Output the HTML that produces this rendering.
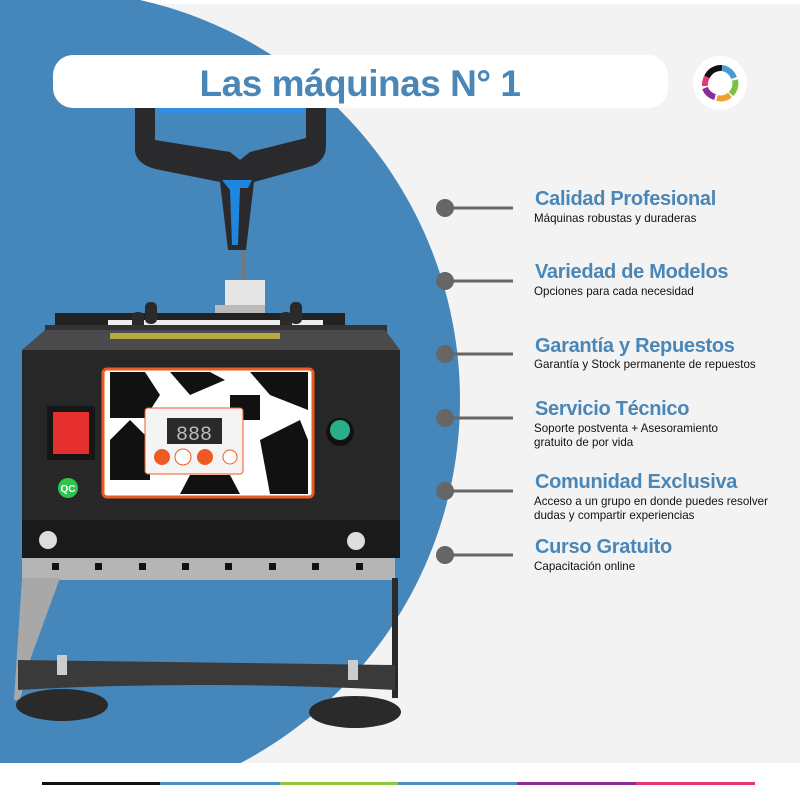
<!DOCTYPE html>
<html><head><meta charset="utf-8"><style>
html,body{margin:0;padding:0;width:800px;height:800px;overflow:hidden;background:#f3f3f3;font-family:"Liberation Sans",sans-serif}
.t{position:absolute;left:535px;color:#4a86b6;font-weight:bold;font-size:20px;letter-spacing:-0.3px;white-space:nowrap}
.s{position:absolute;left:534px;color:#111;font-size:11.6px;line-height:14px;white-space:nowrap}
</style></head><body>
<svg width="800" height="800" style="position:absolute;left:0;top:0">
<rect x="0" y="0" width="800" height="4" fill="#fff"/>
<circle cx="50" cy="400" r="410" fill="#4587ba"/>
<rect x="0" y="763" width="800" height="37" fill="#fff"/>
<!-- handle -->
<path d="M135,108 L135,152 Q138,166 160,170 L220,182 L228,250 L246,250 L254,182 L312,166 Q326,160 326,146 L326,108 L306,108 L306,138 L250,152 L240,160 L230,152 L155,140 L155,108 Z" fill="#2a2a2c"/>
<rect x="155" y="104" width="151" height="10" fill="#2e8ee0"/>
<path d="M222,180 L252,180 L248,188 L240,188 L238,245 L232,245 L230,190 Z" fill="#1f86e0"/>
<rect x="241" y="250" width="4" height="35" fill="#777"/>
<rect x="225" y="280" width="40" height="30" fill="#e6e6e6"/>
<rect x="215" y="305" width="50" height="20" fill="#bbb"/>
<!-- top rail -->
<rect x="55" y="313" width="290" height="12" fill="#222"/>
<rect x="108" y="320" width="215" height="10" fill="#eee"/>
<rect x="145" y="302" width="12" height="22" rx="5" fill="#2a2a2a"/>
<rect x="290" y="302" width="12" height="22" rx="5" fill="#2a2a2a"/>
<rect x="132" y="312" width="12" height="22" rx="5" fill="#2a2a2a"/>
<rect x="280" y="312" width="12" height="22" rx="5" fill="#2a2a2a"/>
<rect x="45" y="325" width="342" height="8" fill="#333"/>
<path d="M45,330 L385,330 L400,350 L22,350 Z" fill="#4a4a4c"/>
<rect x="110" y="333" width="170" height="6" fill="#b8a840"/>
<!-- body -->
<rect x="22" y="350" width="378" height="172" fill="#272727"/>
<rect x="22" y="520" width="378" height="38" fill="#1a1a1a"/>
<circle cx="48" cy="540" r="9" fill="#ddd"/><circle cx="356" cy="541" r="9" fill="#ddd"/>
<!-- panel -->
<rect x="103" y="369" width="210" height="128" rx="4" fill="#fff" stroke="#ef5a24" stroke-width="3"/>
<g fill="#111">
<polygon points="110,372 145,372 160,395 145,418 110,418"/>
<polygon points="170,372 210,372 225,380 190,395"/>
<polygon points="250,372 308,372 308,410 270,395"/>
<polygon points="110,440 130,420 150,440 150,480 110,480"/>
<polygon points="190,475 230,475 240,494 180,494"/>
<polygon points="260,440 300,420 308,440 308,494 270,494"/>
<rect x="230" y="395" width="30" height="25"/>
</g>
<rect x="145" y="408" width="98" height="66" rx="3" fill="#f4f4f4" stroke="#ef5a24" stroke-width="1"/>
<rect x="167" y="418" width="55" height="26" fill="#2a2a2a"/>
<text x="194" y="440" font-size="20" fill="#bbb" text-anchor="middle" font-family="Liberation Mono">888</text>
<circle cx="162" cy="457" r="8" fill="#ee5a24"/><circle cx="183" cy="457" r="8" fill="#fff" stroke="#ee5a24"/><circle cx="205" cy="457" r="8" fill="#ee5a24"/><circle cx="230" cy="457" r="7" fill="#fff" stroke="#ee5a24"/>
<circle cx="340" cy="432" r="14" fill="#111"/><circle cx="340" cy="430" r="10" fill="#2aae8a"/>
<rect x="47" y="406" width="48" height="54" fill="#161616"/>
<rect x="53" y="412" width="36" height="42" fill="#e63030"/>
<circle cx="68" cy="488" r="10" fill="#2fc44e"/>
<text x="68" y="492" font-size="10" fill="#fff" text-anchor="middle" font-weight="bold">QC</text>
<!-- frame -->
<rect x="22" y="558" width="373" height="22" fill="#b5b5b5"/>
<g fill="#111"><rect x="52" y="563" width="7" height="7"/><rect x="95" y="563" width="7" height="7"/><rect x="139" y="563" width="7" height="7"/><rect x="182" y="563" width="7" height="7"/><rect x="225" y="563" width="7" height="7"/><rect x="269" y="563" width="7" height="7"/><rect x="312" y="563" width="7" height="7"/><rect x="356" y="563" width="7" height="7"/></g>
<path d="M22,578 L60,578 L30,660 L20,700 L14,700 Z" fill="#a8a8a8"/>
<rect x="392" y="578" width="6" height="120" fill="#2a2a2a"/>
<path d="M18,660 L395,665 L395,690 Q200,680 18,690 Z" fill="#3a3a3a"/>
<rect x="57" y="655" width="10" height="20" fill="#ccc"/><rect x="348" y="660" width="10" height="20" fill="#ccc"/>
<ellipse cx="62" cy="705" rx="46" ry="16" fill="#2a2a2a"/>
<ellipse cx="355" cy="712" rx="46" ry="16" fill="#2a2a2a"/>
<!-- title pill -->
<rect x="53" y="55" width="615" height="53" rx="20" fill="#fff"/>
<text x="360" y="96" font-size="37" font-weight="bold" fill="#4a86b6" text-anchor="middle" letter-spacing="-0.5">Las máquinas N° 1</text>
<!-- logo -->
<circle cx="720" cy="83" r="27" fill="#fff"/>
<g fill="none" stroke-width="6">
<path d="M707,77 A15,15 0 0 1 722,68" stroke="#111"/>
<path d="M722,68 A15,15 0 0 1 734,78" stroke="#4a9ad6"/>
<path d="M735,80 A15,15 0 0 1 731,94" stroke="#7cc242"/>
<path d="M730,95 A15,15 0 0 1 717,98" stroke="#f0a030"/>
<path d="M715,97 A15,15 0 0 1 705,88" stroke="#8e2a9a"/>
<path d="M705,86 A15,15 0 0 1 707,77" stroke="#e03a7a"/>
</g>
<!-- bullets -->
<g fill="#666" stroke="#666" stroke-width="3">
<circle cx="445" cy="208" r="9" stroke="none"/><line x1="445" y1="208" x2="513" y2="208"/>
<circle cx="445" cy="281" r="9" stroke="none"/><line x1="445" y1="281" x2="513" y2="281"/>
<circle cx="445" cy="354" r="9" stroke="none"/><line x1="445" y1="354" x2="513" y2="354"/>
<circle cx="445" cy="418" r="9" stroke="none"/><line x1="445" y1="418" x2="513" y2="418"/>
<circle cx="445" cy="491" r="9" stroke="none"/><line x1="445" y1="491" x2="513" y2="491"/>
<circle cx="445" cy="555" r="9" stroke="none"/><line x1="445" y1="555" x2="513" y2="555"/>
</g>
<!-- bottom line -->
<rect x="42" y="782" width="118" height="3" fill="#111"/>
<rect x="160" y="782" width="120" height="3" fill="#4a90c8"/>
<rect x="280" y="782" width="118" height="3" fill="#8cc640"/>
<rect x="398" y="782" width="119" height="3" fill="#4a90c8"/>
<rect x="517" y="782" width="119" height="3" fill="#8e2a9a"/>
<rect x="636" y="782" width="119" height="3" fill="#e5357a"/>
</svg>
<div class="t" style="top:188px">Calidad Profesional</div>
<div class="s" style="top:212px">Máquinas robustas y duraderas</div>
<div class="t" style="top:261px">Variedad de Modelos</div>
<div class="s" style="top:285px">Opciones para cada necesidad</div>
<div class="t" style="top:335px">Garantía y Repuestos</div>
<div class="s" style="top:358px">Garantía y Stock permanente de repuestos</div>
<div class="t" style="top:398px">Servicio Técnico</div>
<div class="s" style="top:422px">Soporte postventa + Asesoramiento<br>gratuito de por vida</div>
<div class="t" style="top:471px">Comunidad Exclusiva</div>
<div class="s" style="top:495px">Acceso a un grupo en donde puedes resolver<br>dudas y compartir experiencias</div>
<div class="t" style="top:536px">Curso Gratuito</div>
<div class="s" style="top:560px">Capacitación online</div>
</body></html>
